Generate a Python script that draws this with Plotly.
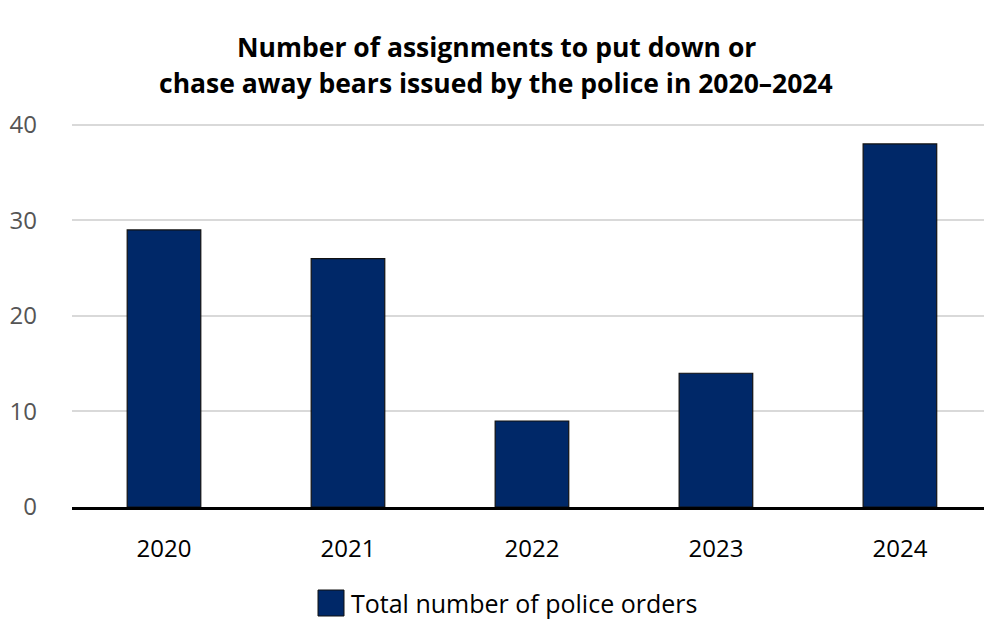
import plotly.graph_objects as go

years = ["2020", "2021", "2022", "2023", "2024"]
orders = [29, 26, 9, 14, 38]
series_name = "Total number of police orders"
y_ticks = [0, 10, 20, 30, 40]
title_lines = ["Number of assignments to put down or",
               "chase away bears issued by the police in 2020–2024"]

BAR = "#002868"
FONT = "Open Sans"

L, R, T, B = 72, 0, 122, 112
W, H = 984, 619
PW, PH = W - L - R, H - T - B

def px_x(x):
    return (x - L) / PW

def px_y(y):
    return (H - B - y) / PH

fig = go.Figure()
fig.add_trace(go.Bar(
    x=years, y=orders, name=series_name,
    marker=dict(color=BAR, line=dict(color="#111111", width=1.2)),
    width=0.4, showlegend=False,
))

fig.update_layout(
    width=W, height=H,
    margin=dict(l=L, r=R, t=T, b=B),
    paper_bgcolor="white", plot_bgcolor="white",
    font=dict(family=FONT),
    xaxis=dict(
        type="category", range=[-0.5, 4.457],
        showline=True, linecolor="black", linewidth=3,
        showgrid=False, ticks="",
        tickfont=dict(family=FONT, size=24, color="black"),
        ticklabelstandoff=18,
    ),
    yaxis=dict(
        range=[0, 40.3], tickvals=y_ticks,
        showgrid=True, gridcolor="#d9d9d9", gridwidth=2,
        zeroline=False, ticks="",
        tickfont=dict(family=FONT, size=24, color="#555555"),
        ticklabelstandoff=34,
    ),
    showlegend=False,
)

# title (two centred lines)
for line, yc in zip(title_lines, [47, 83]):
    fig.add_annotation(xref="paper", yref="paper",
                       x=px_x(496), y=px_y(yc),
                       xanchor="center", yanchor="middle", showarrow=False,
                       text="<b>" + line + "</b>",
                       font=dict(family=FONT, size=26.5, color="black"))

# legend key (manual, to match the large square swatch)
fig.add_shape(type="rect", xref="paper", yref="paper",
              x0=px_x(318), x1=px_x(344), y0=px_y(616), y1=px_y(590),
              fillcolor=BAR, line=dict(color="#111111", width=1))
fig.add_annotation(xref="paper", yref="paper",
                   x=px_x(349), y=px_y(603),
                   xanchor="left", yanchor="middle", showarrow=False,
                   text=series_name,
                   font=dict(family=FONT, size=25, color="black"))

fig.write_html("out.html")
